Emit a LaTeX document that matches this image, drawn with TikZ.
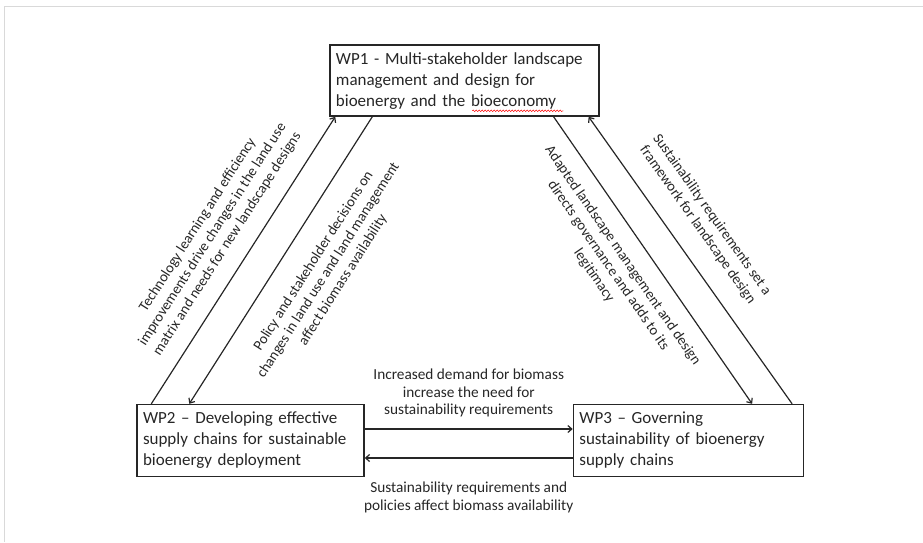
\documentclass[tikz,border=0pt]{standalone}
\usepackage{fontspec}
\setmainfont{Carlito}
\usetikzlibrary{arrows.meta, positioning, calc, decorations.pathmorphing}

\begin{document}
\begin{tikzpicture}[
    x = 1pt, y = 1pt,
    > = {Straight Barb[length=4pt, width=7pt]}, % arrow head style
    semithick % line style
    ]

    \tikzset{
    wpbox/.style = {draw = black!85, line width = 1.4pt, align = left, inner xsep = 6pt,
        minimum height = 72pt, text = black!85, font = \fontsize{17}{21}\selectfont},
    flow/.style = {->, line width = 1.2pt, draw = black!85},
    note/.style = {align = center, text = black!85, font = \fontsize{14.6}{17.5}\selectfont},
    spellwave/.style = {red, line width = 0.5pt, decorate, decoration = {snake, amplitude = 0.8pt, segment length = 3pt}}
    }

    \useasboundingbox (0,0) rectangle (923,-542);
    \draw[black!15] (4,-542) |- (923,-6);

    \node[wpbox, text width = 215pt] (wp2) at (250.5,-440.5) {WP2 -- Developing effective\\supply chains for sustainable\\bioenergy deployment};
    \node[wpbox, text width = 218pt] (wp3) [right=208pt of wp2] {WP3 -- Governing\\sustainability of bioenergy\\supply chains};
    \coordinate (mid) at ($(wp2.north)!0.5!(wp3.north)$);
    \node[wpbox, text width = 257pt, minimum height = 71pt] (wp1) [above=287pt of mid, xshift=-5pt] {WP1 - Multi-stakeholder landscape\\management and design for\\bioenergy and the bioeconomy};
    \draw[spellwave] ($(wp1.south west)+(143,6)$) -- ($(wp1.south west)+(234,6)$);

    \draw[flow] ($(wp2.north west)+(15,0)$) -- node[note, sloped, pos=0.515, above=12pt] {Technology learning and efficiency\\improvements drive changes in the land use\\matrix and needs for new landscape designs} ($(wp1.south west)+(6,0)$);
    \draw[flow, <-] ($(wp2.north west)+(53,0)$) -- node[note, sloped, pos=0.55, below=18pt] {Policy and stakeholder decisions on\\changes in land use and land management\\affect biomass availability} ($(wp1.south west)+(43,0)$);
    \draw[flow] ($(wp1.south east)+(-46,0)$) -- node[note, sloped, pos=0.44, below=12pt] {Adapted landscape management and design\\directs governance and adds to its\\legitimacy} ($(wp3.north east)+(-52,0)$);
    \draw[flow, <-] ($(wp1.south east)+(-11,0)$) -- node[note, sloped, pos=0.43, above=16pt] {Sustainability requirements set a\\framework for landscape design} ($(wp3.north east)+(-12,0)$);

    \draw[flow] ($(wp2.east)+(0,11.5)$) -- node[note, above=8pt, font=\fontsize{15.3}{17.5}\selectfont] {Increased demand for biomass\\increase the need for\\sustainability requirements} ($(wp3.west)+(0,11.5)$);
    \draw[flow] ($(wp3.west)+(0,-17.5)$) -- node[note, below=20pt, font=\fontsize{15.3}{17.5}\selectfont] {Sustainability requirements and\\policies affect biomass availability} ($(wp2.east)+(0,-17.5)$);

\end{tikzpicture}
\end{document}
